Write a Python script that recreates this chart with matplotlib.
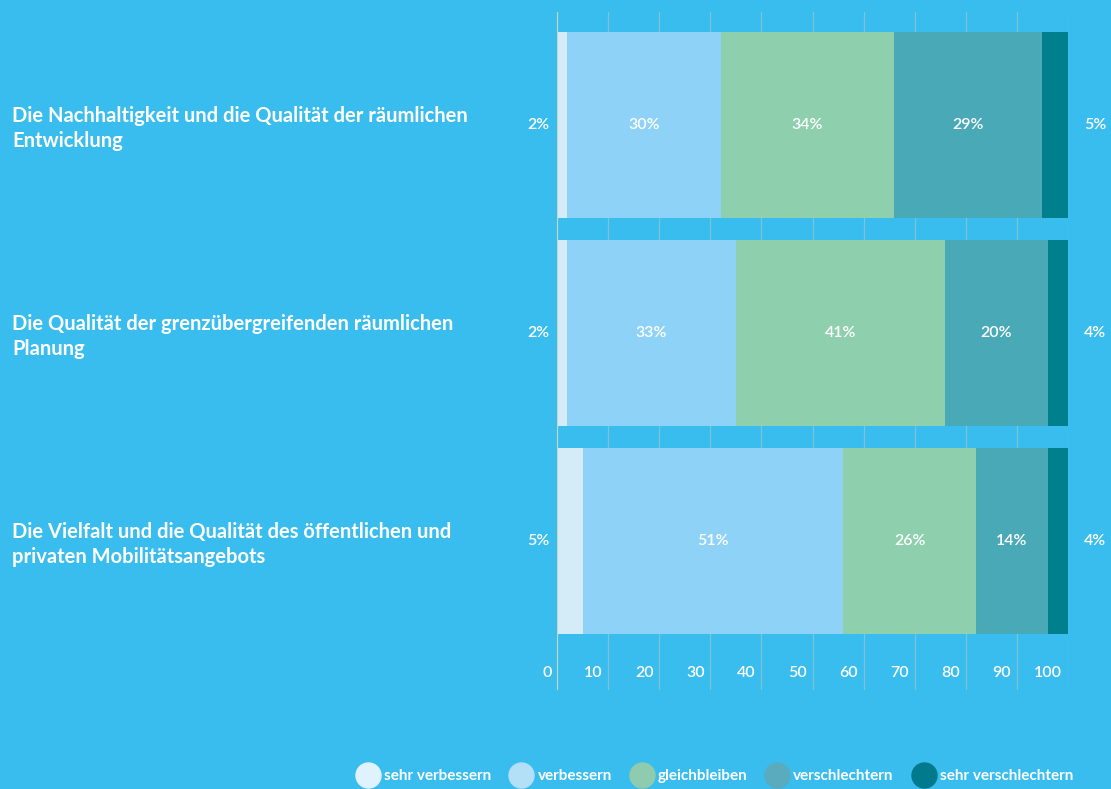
import matplotlib.pyplot as plt
from matplotlib.lines import Line2D

categories = [
    "Die Nachhaltigkeit und die Qualität der räumlichen\nEntwicklung",
    "Die Qualität der grenzübergreifenden räumlichen\nPlanung",
    "Die Vielfalt und die Qualität des öffentlichen und\nprivaten Mobilitätsangebots",
]
series_names = ["sehr verbessern", "verbessern", "gleichbleiben",
                "verschlechtern", "sehr verschlechtern"]
sehr_verbessern = [2, 2, 5]
verbessern = [30, 33, 51]
gleichbleiben = [34, 41, 26]
verschlechtern = [29, 20, 14]
sehr_verschlechtern = [5, 4, 4]
ticks = [0, 10, 20, 30, 40, 50, 60, 70, 80, 90, 100]

bar_colors = ["#D4ECF8", "#8ED3F7", "#8ECFAE", "#4AA9B6", "#00808C"]
legend_colors = ["#E0F2FC", "#B3DFF7", "#8FCBAE", "#5AABBD", "#027A8E"]
bg = "#38BDEE"

plt.rcParams['font.family'] = ['Lato', 'DejaVu Sans']

fig = plt.figure(figsize=(11.11, 7.89), dpi=100, facecolor=bg)
ax = fig.add_axes([557 / 1111, 99 / 789, 511 / 1111, 678 / 789])
ax.set_facecolor(bg)

series = [sehr_verbessern, verbessern, gleichbleiben, verschlechtern, sehr_verschlechtern]
ypos = list(range(len(categories)))

# grid lines
for t in ticks[1:]:
    ax.axvline(t, color="#7FC3D6", lw=0.9, zorder=1)
ax.axvline(0, color="#C9D7BF", lw=1.6, zorder=4)

left = [0] * len(categories)
for vals, col in zip(series, bar_colors):
    ax.barh(ypos, vals, left=left, height=0.894, color=col, zorder=2)
    left = [l + v for l, v in zip(left, vals)]

lbl = dict(color="white", fontsize=11.5, fontweight="semibold")

# value labels
for i in ypos:
    ax.text(-3.7, i, f"{sehr_verbessern[i]}%", ha="center", va="center", **lbl)
    ax.text(105.3, i, f"{sehr_verschlechtern[i]}%", ha="center", va="center",
            clip_on=False, **lbl)
    start = sehr_verbessern[i]
    for vals in series[1:4]:
        ax.text(start + vals[i] / 2, i, f"{vals[i]}%", ha="center", va="center",
                zorder=5, **lbl)
        start += vals[i]

# category labels
for i, cat in enumerate(categories):
    ax.text(-106.6, i + 0.015, cat, ha="left", va="center", color="white",
            fontsize=14.5, fontweight="bold", linespacing=1.32)

# tick labels
for t in ticks:
    ax.text(t - 1.1, 0.025, str(t), transform=ax.get_xaxis_transform(),
            ha="right", va="center", **lbl)

ax.set_xlim(0, 100)
ax.set_ylim(2.716, -0.543)
ax.set_xticks([])
ax.set_yticks([])
for s in ax.spines.values():
    s.set_visible(False)

handles = [Line2D([], [], marker="o", ls="", markersize=18, markerfacecolor=c,
                  markeredgecolor=c) for c in legend_colors]
leg = fig.legend(handles, series_names, ncol=5, loc="center right",
                 bbox_to_anchor=(1073 / 1111, 1 - 776 / 789), frameon=False,
                 handletextpad=0.25, columnspacing=1.15, handlelength=1.6,
                 borderaxespad=0, borderpad=0,
                 prop={"weight": "bold", "size": 11}, labelcolor="white")

fig.savefig("out.png", dpi=100, facecolor=bg)
